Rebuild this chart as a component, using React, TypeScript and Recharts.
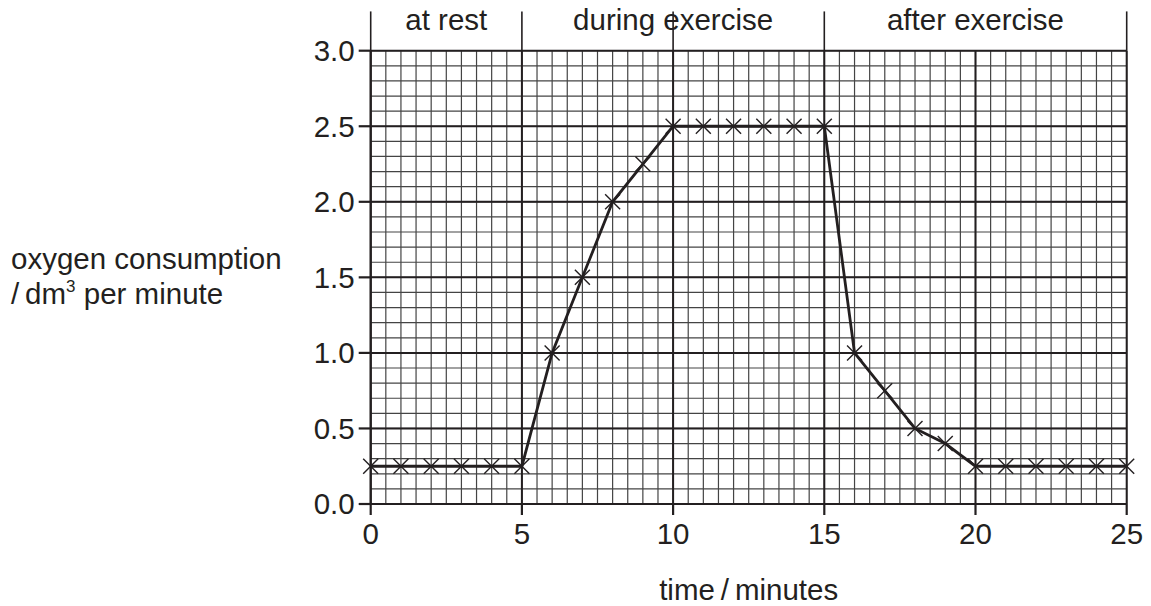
import React from 'react'
import { LineChart, Line, XAxis, YAxis, ReferenceLine, ReferenceArea } from 'recharts'

// time in minutes and oxygen consumption (dm3 per minute)
const times = [0, 1, 2, 3, 4, 5, 6, 7, 8, 9, 10, 11, 12, 13, 14, 15, 16, 17, 18, 19, 20, 21, 22, 23, 24, 25]
const oxygen = [
  0.25, 0.25, 0.25, 0.25, 0.25, 0.25, 1.0, 1.5, 2.0, 2.25, 2.5, 2.5, 2.5, 2.5, 2.5, 2.5, 1.0, 0.75, 0.5, 0.4, 0.25,
  0.25, 0.25, 0.25, 0.25, 0.25,
]

const xTicks = [0, 5, 10, 15, 20, 25]
const yTicks = [0, 0.5, 1.0, 1.5, 2.0, 2.5, 3.0]

const phaseNames = ['at rest', 'during exercise', 'after exercise']
const phaseStarts = [0, 5, 15]
const phaseEnds = [5, 15, 25]
const phaseBounds = [0, 5, 10, 15, 25]

const yTitleLines = ['oxygen consumption', 'per minute']
const xTitle = 'time\u2009/\u2009minutes'

// graph paper: small squares every 0.5 min and 0.1 dm3
const minorX = Array.from({ length: 51 }, (_, i) => i / 2)
const minorY = Array.from({ length: 31 }, (_, i) => i / 10)

const data = times.map((t, i) => ({ t, o: oxygen[i] }))

const INK = '#231f20'
const FONT = '"Liberation Sans", Arial, Helvetica, sans-serif'
const FS = 29.5
const headerTop = 3.26

const CrossDot = (props: any) => {
  const { cx, cy, index } = props
  if (cx == null || cy == null) return null
  const s = 7.5
  return (
    <g key={`dot-${index}`} stroke={INK} strokeWidth={1.4}>
      <line x1={cx - s} y1={cy - s} x2={cx + s} y2={cy + s} />
      <line x1={cx - s} y1={cy + s} x2={cx + s} y2={cy - s} />
    </g>
  )
}

const PhaseLabel = (text: string) => (props: any) => {
  const vb = props.viewBox
  if (!vb) return null
  return (
    <text x={vb.x + vb.width / 2} y={30} textAnchor="middle" fontSize={FS} fill={INK} fontFamily={FONT}>
      {text}
    </text>
  )
}

const YTitle = () => (
  <text x={11} y={269} fontSize={FS} fill={INK} fontFamily={FONT}>
    <tspan x={11} y={269}>{yTitleLines[0]}</tspan>
    <tspan x={11} y={304}>/{'\u2009'}dm</tspan>
    <tspan fontSize={17} dy={-12}>3</tspan>
    <tspan dy={12}> {yTitleLines[1]}</tspan>
  </text>
)

const XTitle = (props: any) => {
  const vb = props.viewBox
  if (!vb) return null
  return (
    <text x={vb.x + vb.width / 2} y={600} textAnchor="middle" fontSize={FS} fill={INK} fontFamily={FONT}>
      {xTitle}
    </text>
  )
}

export default function App() {
  return (
    <div style={{ width: 1151, height: 606, background: '#fff', fontFamily: FONT }}>
      <style>{'body{margin:0}'}</style>
      <LineChart width={1151} height={606} data={data} margin={{ top: 50.7, right: 24.3, left: 290.7, bottom: 62 }}>
        <XAxis
          dataKey="t"
          type="number"
          domain={[0, 25]}
          ticks={xTicks}
          allowDecimals={false}
          height={40}
          stroke={INK}
          tickSize={11}
          tickMargin={8}
          tick={{ fill: INK, fontSize: FS, fontFamily: FONT }}
          axisLine={{ stroke: INK, strokeWidth: 2 }}
          tickLine={{ stroke: INK, strokeWidth: 2.2 }}
          label={<XTitle />}
        />
        <YAxis
          type="number"
          domain={[0, 3]}
          ticks={yTicks}
          width={80}
          stroke={INK}
          tickSize={12}
          tickMargin={4}
          tickFormatter={(v: number) => v.toFixed(1)}
          tick={{ fill: INK, fontSize: FS, fontFamily: FONT }}
          axisLine={{ stroke: INK, strokeWidth: 2 }}
          tickLine={{ stroke: INK, strokeWidth: 2.2 }}
          label={<YTitle />}
        />

        {/* minor grid */}
        {minorX.map((v) => (
          <ReferenceLine key={`mx-${v}`} x={v} stroke="#444" strokeWidth={1.2} />
        ))}
        {minorY.map((v) => (
          <ReferenceLine key={`my-${v}`} y={v} stroke="#444" strokeWidth={1.2} />
        ))}

        {/* major grid */}
        {xTicks.map((v) => (
          <ReferenceLine key={`Mx-${v}`} x={v} stroke={INK} strokeWidth={2} />
        ))}
        {yTicks.map((v) => (
          <ReferenceLine key={`My-${v}`} y={v} stroke={INK} strokeWidth={2} />
        ))}

        {/* phase dividers above the grid */}
        {phaseBounds.map((v) => (
          <ReferenceLine
            key={`pb-${v}`}
            segment={[
              { x: v, y: 3 },
              { x: v, y: headerTop },
            ]}
            ifOverflow="visible"
            stroke={INK}
            strokeWidth={1.6}
          />
        ))}
        {phaseNames.map((name, i) => (
          <ReferenceArea
            key={`ph-${name}`}
            x1={phaseStarts[i]}
            x2={phaseEnds[i]}
            y1={3}
            y2={headerTop}
            ifOverflow="visible"
            fill="none"
            fillOpacity={0}
            stroke="none"
            label={PhaseLabel(name)}
          />
        ))}

        <Line
          type="linear"
          dataKey="o"
          stroke={INK}
          strokeWidth={2.8}
          dot={CrossDot}
          activeDot={false}
          isAnimationActive={false}
        />
      </LineChart>
    </div>
  )
}
